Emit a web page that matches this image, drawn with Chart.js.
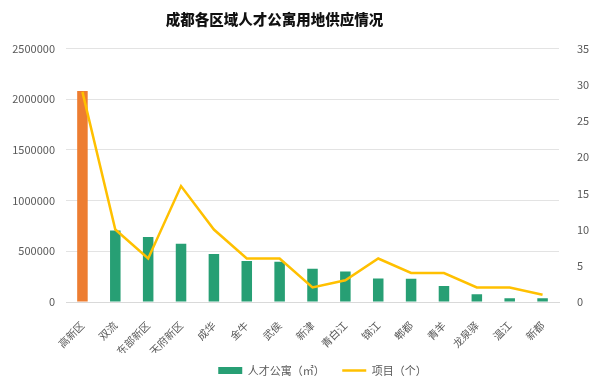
<!DOCTYPE html>
<html>
<head>
<meta charset="utf-8">
<script src="https://cdn.jsdelivr.net/npm/chart.js@4.4.1/dist/chart.umd.min.js"></script>
<style>
html,body{margin:0;padding:0;background:#fff;}
#wrap{width:601px;height:384px;}
</style>
</head>
<body>
<div id="wrap"><canvas id="chart" width="601" height="384"></canvas></div>
<script>
const districts = ["高新区","双流","东部新区","天府新区","成华","金牛","武侯","新津","青白江","锦江","郫都","青羊","龙泉驿","温江","新都"];
const apartmentArea = [2080000,705000,640000,575000,472000,405000,396000,327000,300000,232000,230000,158000,77000,37000,37000];
const projectCount = [29,10,6,16,10,6,6,2,3,6,4,4,2,2,1];
const leftTicks = [0,500000,1000000,1500000,2000000,2500000];
const rightTicks = [0,5,10,15,20,25,30,35];

const GREEN = "#279f74";
const ORANGE = "#ed7d31";
const GOLD = "#ffc000";
const FONT = "'Noto Sans CJK SC', 'Noto Sans', sans-serif";

const barColors = districts.map((d,i) => i === 0 ? ORANGE : GREEN);

Chart.defaults.font.family = FONT;
Chart.defaults.color = "#595959";

// nudge title and legend sideways like the original layout
const shiftBlocks = {
    id: "shiftBlocks",
    afterLayout(chart) {
        const t = chart.titleBlock;
        if (t) { t.left -= 26; t.right -= 26; }
        const l = chart.legend;
        if (l) { l.left += 22; l.right += 22; }
    }
};

new Chart(document.getElementById("chart"), {
    data: {
        labels: districts,
        datasets: [
            {
                type: "line",
                label: "项目（个）",
                data: projectCount,
                yAxisID: "y1",
                borderColor: GOLD,
                backgroundColor: GOLD,
                borderWidth: 2.5,
                pointRadius: 0,
                tension: 0,
                order: 0
            },
            {
                type: "bar",
                label: "人才公寓（㎡）",
                data: apartmentArea,
                yAxisID: "y",
                backgroundColor: barColors,
                categoryPercentage: 1,
                barPercentage: 0.32,
                order: 1
            }
        ]
    },
    plugins: [shiftBlocks],
    options: {
        responsive: false,
        animation: false,
        layout: { padding: { left: 0, right: 0, top: 0, bottom: -2 } },
        plugins: {
            title: {
                display: true,
                text: "成都各区域人才公寓用地供应情况",
                color: "#111111",
                font: { size: 14.5, weight: "900", family: FONT },
                padding: { top: 11, bottom: 20 }
            },
            legend: {
                position: "bottom",
                reverse: true,
                labels: {
                    usePointStyle: true,
                    pointStyleWidth: 24,
                    boxHeight: 7,
                    padding: 12,
                    color: "#595959",
                    font: { size: 11, family: FONT },
                    generateLabels(chart) {
                        const items = Chart.defaults.plugins.legend.labels.generateLabels(chart);
                        items.forEach(it => {
                            const ds = chart.data.datasets[it.datasetIndex];
                            if (ds.type === "bar") {
                                it.pointStyle = "rect";
                                it.fillStyle = GREEN;
                                it.strokeStyle = GREEN;
                                it.lineWidth = 0;
                                it.text = it.text + "\u3000";
                            } else {
                                it.pointStyle = "line";
                                it.strokeStyle = GOLD;
                                it.lineWidth = 2.5;
                            }
                        });
                        return items;
                    }
                }
            },
            tooltip: { enabled: false }
        },
        scales: {
            x: {
                grid: { display: false },
                border: { display: true, color: "#d9d9d9" },
                ticks: {
                    minRotation: 45,
                    maxRotation: 45,
                    autoSkip: false,
                    padding: 9,
                    font: { size: 10.5 }
                },
                afterFit(scale) { scale.height = 51; }
            },
            y: {
                position: "left",
                min: 0,
                max: 2500000,
                afterBuildTicks(scale) { scale.ticks = leftTicks.map(v => ({ value: v })); },
                grid: { color: "#e3e3e3", drawTicks: false },
                border: { display: false },
                ticks: { padding: 11, font: { size: 11 }, callback: v => String(v) },
                afterFit(scale) { scale.width = 66; }
            },
            y1: {
                position: "right",
                min: 0,
                max: 35,
                afterBuildTicks(scale) { scale.ticks = rightTicks.map(v => ({ value: v })); },
                grid: { display: false },
                border: { display: false },
                ticks: { padding: 10, font: { size: 11 }, callback: v => String(v) },
                afterFit(scale) { scale.width = 42; }
            }
        }
    }
});
</script>
</body>
</html>
